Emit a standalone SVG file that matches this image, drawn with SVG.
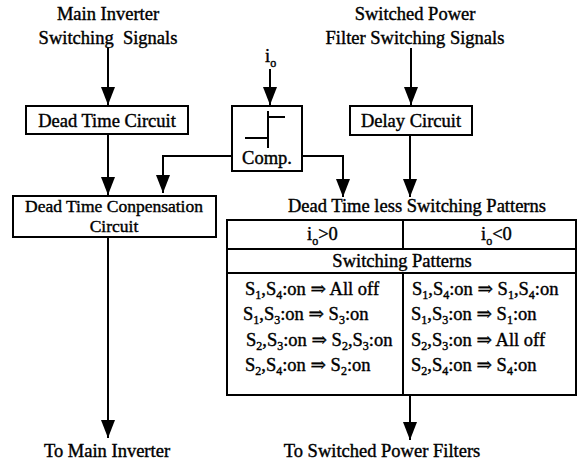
<svg xmlns="http://www.w3.org/2000/svg" width="578" height="462" viewBox="0 0 578 462" font-family="'Liberation Serif', 'DejaVu Serif', serif">
<defs>
<style>
text{font-family:'Liberation Serif','DejaVu Serif',serif;font-size:18.5px;fill:#000;stroke:#000;stroke-width:0.4}
.m{text-anchor:middle}
.sb{font-size:12px}
.box{fill:#fff;stroke:#000;stroke-width:2}
.ln{fill:none;stroke:#000;stroke-width:2}
.ar{fill:none;stroke:#000;stroke-width:2;marker-end:url(#ah)}
</style>
<marker id="ah" markerUnits="userSpaceOnUse" markerWidth="18" markerHeight="14" refX="18" refY="7" orient="auto">
<path d="M0,0 L18,7 L0,14 z" fill="#000"/>
</marker>
</defs>
<rect width="578" height="462" fill="#fff"/>

<g id="label-main-inverter">
<text class="m" x="108" y="20">Main Inverter</text>
<text class="m" x="108" y="44" xml:space="preserve">Switching  Signals</text>
</g>

<g id="label-spf">
<text class="m" x="415" y="20">Switched Power</text>
<text class="m" x="415" y="44">Filter Switching Signals</text>
</g>

<g id="label-io">
<text x="265" y="62">i<tspan class="sb" dy="5">o</tspan></text>
</g>

<g id="dead-time-circuit">
<rect class="box" x="26" y="106" width="162" height="28"/>
<text class="m" x="107" y="127">Dead Time Circuit</text>
</g>

<g id="comp">
<rect class="box" x="232" y="106" width="70" height="65"/>
<path class="ln" d="M268,111 V148 M268,117 H285 M245,138 H268"/>
<text class="m" x="267" y="164">Comp.</text>
</g>

<g id="delay-circuit">
<rect class="box" x="350" y="106" width="122" height="29"/>
<text class="m" x="411" y="127">Delay Circuit</text>
</g>

<g id="dead-time-compensation">
<rect class="box" x="13" y="196" width="203" height="41"/>
<text class="m" x="114" y="212" style="font-size:17.5px">Dead Time Conpensation</text>
<text class="m" x="114" y="232" style="font-size:17.5px">Circuit</text>
</g>

<g id="switching-table">
<text class="m" x="417" y="212">Dead Time less Switching Patterns</text>
<rect class="box" x="227" y="220" width="349" height="175"/>
<path class="ln" d="M227,249 H576 M227,273 H576 M403,220 V249 M403,273 V395"/>
<text x="307" y="240">i<tspan class="sb" dy="5">o</tspan><tspan dy="-5">&gt;0</tspan></text>
<text x="481" y="240">i<tspan class="sb" dy="5">o</tspan><tspan dy="-5">&lt;0</tspan></text>
<text class="m" x="402" y="267">Switching Patterns</text>
<text x="245" y="295">S<tspan class="sb" dy="4">1</tspan><tspan dy="-4">,S</tspan><tspan class="sb" dy="4">4</tspan><tspan dy="-4">:on ⇒ All off</tspan></text>
<text x="243" y="320">S<tspan class="sb" dy="4">1</tspan><tspan dy="-4">,S</tspan><tspan class="sb" dy="4">3</tspan><tspan dy="-4">:on ⇒ S</tspan><tspan class="sb" dy="4">3</tspan><tspan dy="-4">:on</tspan></text>
<text x="246" y="346">S<tspan class="sb" dy="4">2</tspan><tspan dy="-4">,S</tspan><tspan class="sb" dy="4">3</tspan><tspan dy="-4">:on ⇒ S</tspan><tspan class="sb" dy="4">2</tspan><tspan dy="-4">,S</tspan><tspan class="sb" dy="4">3</tspan><tspan dy="-4">:on</tspan></text>
<text x="245" y="371">S<tspan class="sb" dy="4">2</tspan><tspan dy="-4">,S</tspan><tspan class="sb" dy="4">4</tspan><tspan dy="-4">:on ⇒ S</tspan><tspan class="sb" dy="4">2</tspan><tspan dy="-4">:on</tspan></text>
<text x="412" y="295">S<tspan class="sb" dy="4">1</tspan><tspan dy="-4">,S</tspan><tspan class="sb" dy="4">4</tspan><tspan dy="-4">:on ⇒ S</tspan><tspan class="sb" dy="4">1</tspan><tspan dy="-4">,S</tspan><tspan class="sb" dy="4">4</tspan><tspan dy="-4">:on</tspan></text>
<text x="411" y="320">S<tspan class="sb" dy="4">1</tspan><tspan dy="-4">,S</tspan><tspan class="sb" dy="4">3</tspan><tspan dy="-4">:on ⇒ S</tspan><tspan class="sb" dy="4">1</tspan><tspan dy="-4">:on</tspan></text>
<text x="411" y="346">S<tspan class="sb" dy="4">2</tspan><tspan dy="-4">,S</tspan><tspan class="sb" dy="4">3</tspan><tspan dy="-4">:on ⇒ All off</tspan></text>
<text x="411" y="371">S<tspan class="sb" dy="4">2</tspan><tspan dy="-4">,S</tspan><tspan class="sb" dy="4">4</tspan><tspan dy="-4">:on ⇒ S</tspan><tspan class="sb" dy="4">4</tspan><tspan dy="-4">:on</tspan></text>
</g>

<g id="label-to-main">
<text class="m" x="107" y="457">To Main Inverter</text>
</g>
<g id="label-to-spf">
<text class="m" x="382" y="457">To Switched Power Filters</text>
</g>

<g id="connectors">
<path class="ar" d="M108,48 V105"/>
<path class="ar" d="M270,69 V105"/>
<path class="ar" d="M411,48 V105"/>
<path class="ar" d="M108,134 V195"/>
<path class="ar" d="M232,156 H163 V193"/>
<path class="ar" d="M302,156 H343 V197"/>
<path class="ar" d="M410,135 V197"/>
<path class="ar" d="M108,237 V438"/>
<path class="ar" d="M410,395 V440"/>
</g>
</svg>
